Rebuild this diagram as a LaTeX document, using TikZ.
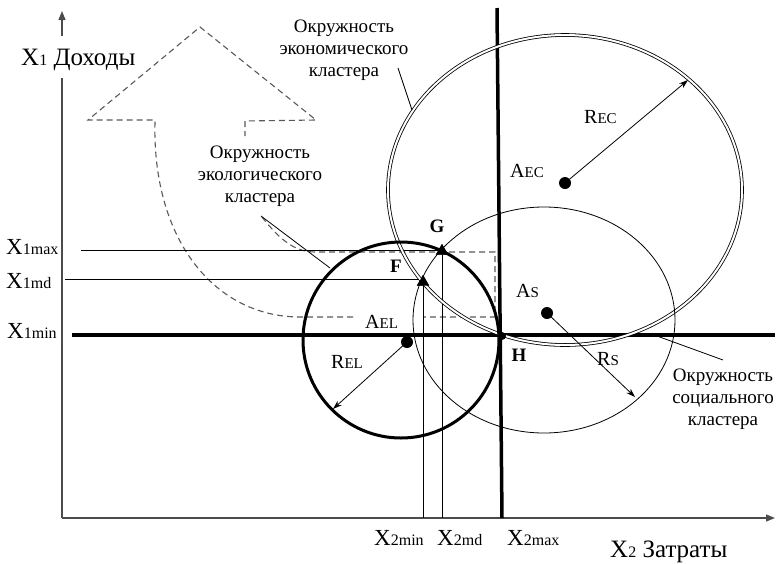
\documentclass[tikz,border=0pt]{standalone}
\usepackage{fontspec}
\setmainfont{Liberation Serif}
\usetikzlibrary{arrows.meta,shapes.geometric}
\newcommand{\axX}[1]{{\fontsize{23}{23}\selectfont X}{\fontsize{16}{16}\selectfont #1}}
\newcommand{\ptl}[2]{{\fontsize{20}{20}\selectfont #1}\raisebox{-0.5pt}{\fontsize{15}{15}\selectfont #2}}
\begin{document}
\begin{tikzpicture}[x=1pt,y=-1pt,
  ax/.style={line width=1.3pt,black!70},
  thinl/.style={line width=0.8pt},
  dsh/.style={dash pattern=on 6pt off 4pt, line width=1.1pt, black!65},
  lbl/.style={align=center,inner sep=0pt,font=\fontsize{19}{22}\selectfont},
  tri/.style={regular polygon, regular polygon sides=3, fill=black, inner sep=0pt, minimum size=14pt},
  dot/.style={circle, fill=black, inner sep=0pt, minimum size=12pt},
  rarr/.style={line width=0.8pt, -{Stealth[length=9pt,width=6pt]}},
  txt/.style={inner sep=0pt, anchor=base west},
  bl/.style={inner sep=0pt, font=\fontsize{19}{19}\selectfont\bfseries},
  arrtip/.style={-{Triangle[length=9pt,width=7pt]}}
]
\useasboundingbox (0,0) rectangle (777,563);
% axes
\coordinate (O) at (62,518);
\coordinate (Ytop) at (62,78);
\coordinate (Ya) at (62,36);
\coordinate (Yb) at (62,11);
\coordinate (Xend) at (775,518);
\draw[ax] (O) -- (Ytop);
\draw[ax,arrtip] (Ya) -- (Yb);
\draw[ax,arrtip] (O) -- (Xend);
\node[txt] (ylab) at (21,65) {{\fontsize{25}{25}\selectfont X}{\fontsize{16}{16}\selectfont 1}{\fontsize{25}{25}\selectfont\ Доходы}};
\node[txt] (xlab) at (610,557) {{\fontsize{25}{25}\selectfont X}{\fontsize{16}{16}\selectfont 2}{\fontsize{25}{25}\selectfont\ Затраты}};

% dashed big arrow
\coordinate (d1) at (353,317);
\coordinate (d2) at (300,317);
\coordinate (d3) at (155,122);
\coordinate (d4) at (88,120);
\coordinate (d5) at (200,27);
\coordinate (d6) at (316,120);
\coordinate (d7) at (245,121);
\coordinate (d8) at (245,136);
\coordinate (e1) at (262,217);
\coordinate (e2) at (315,252);
\coordinate (e3) at (495,252);
\coordinate (e4) at (495,317);
\coordinate (e5) at (423,317);
\draw[dsh] (d1) -- (d2) .. controls (215,317) and (152,240) .. (d3) -- (155,120) -- (d4) -- (d5) -- (d6) -- (d7) -- (d8);
\draw[dsh] (e1) .. controls (280,240) and (295,252) .. (e2) -- (e3) -- (e4) -- (e5);

% level lines
\node[tri] (F) at (423,282) {};
\node[tri] (G) at (442,251) {};
\coordinate (X1maxS) at (81,250);
\coordinate (X1mdS) at (65,279);
\coordinate (X1minS) at (72,335);
\coordinate (X1minE) at (775,335);
\coordinate (X2maxT) at (497,8);
\coordinate (X2maxB) at (502,518);
\draw[thinl] (X1maxS) -- (442,250);
\draw[thinl] (X1mdS) -- (423,279);
\draw[thinl] (423,285) -- (423,518);
\draw[thinl] (442,254) -- (442,518);
\draw[line width=4pt] (X1minS) -- (X1minE);
\draw[line width=3.5pt] (X2maxT) -- (X2maxB);

% circles
\coordinate (AEC) at (565,183);
\coordinate (AS) at (547,313);
\coordinate (AEL) at (407,342);
\draw[line width=0.8pt, double, double distance=2pt] (565,190) ellipse [x radius=177pt, y radius=155pt];
\draw[thinl] (544,320) ellipse [x radius=131pt, y radius=113pt];
\draw[line width=3pt] (401,340) circle [radius=98pt];

% radii
\coordinate (REC) at (688,80);
\coordinate (RS) at (635,397);
\coordinate (REL) at (333,409);
\draw[rarr] (AEC) -- (REC);
\draw[rarr] (AS) -- (RS);
\draw[rarr] (AEL) -- (REL);
\node[dot] (dEC) at (AEC) {};
\node[dot] (dS) at (AS) {};
\node[dot] (dEL) at (AEL) {};
\node[circle, fill=black, inner sep=0pt, minimum size=8pt] (H) at (502,336) {};
\node[tri] at (F) {};
\node[tri] at (G) {};

% point labels
\node[bl] (Gl) at (437,226) {G};
\node[bl] (Fl) at (396,266) {F};
\node[bl] (Hl) at (519,355) {H};
\node[txt] (lAEC) at (510,177) {\ptl{A}{EC}};
\node[txt] (lAS) at (516,297) {\ptl{A}{S}};
\node[txt] (lAEL) at (365,328) {\ptl{A}{EL}};
\node[txt] (lREC) at (584,123) {\ptl{R}{EC}};
\node[txt] (lRS) at (597,365) {\ptl{R}{S}};
\node[txt] (lREL) at (331,368) {\ptl{R}{EL}};

% axis value labels
\node[txt] (x1max) at (6,254) {\axX{1max}};
\node[txt] (x1md) at (6,288) {\axX{1md}};
\node[txt] (x1min) at (7,338) {\axX{1min}};
\node[txt] (x2min) at (374,545) {\axX{2min}};
\node[txt] (x2md) at (437,545) {\axX{2md}};
\node[txt] (x2max) at (507,545) {\axX{2max}};

% cluster labels
\node[lbl] (Lec) at (344,50) {Окружность\\экономического\\кластера};
\node[lbl] (Lel) at (260,176) {Окружность\\экологического\\кластера};
\node[lbl] (Ls) at (723,399) {Окружность\\социального\\кластера};
\coordinate (lecA) at (398,68);
\coordinate (lecB) at (412,110);
\coordinate (lelA) at (261,216);
\coordinate (lelB) at (330,268);
\coordinate (lsA) at (723,360);
\coordinate (lsB) at (657,336);
\draw[thinl] (lecA) -- (lecB);
\draw[thinl] (lelA) -- (lelB);
\draw[thinl] (lsA) -- (lsB);
\end{tikzpicture}
\end{document}
